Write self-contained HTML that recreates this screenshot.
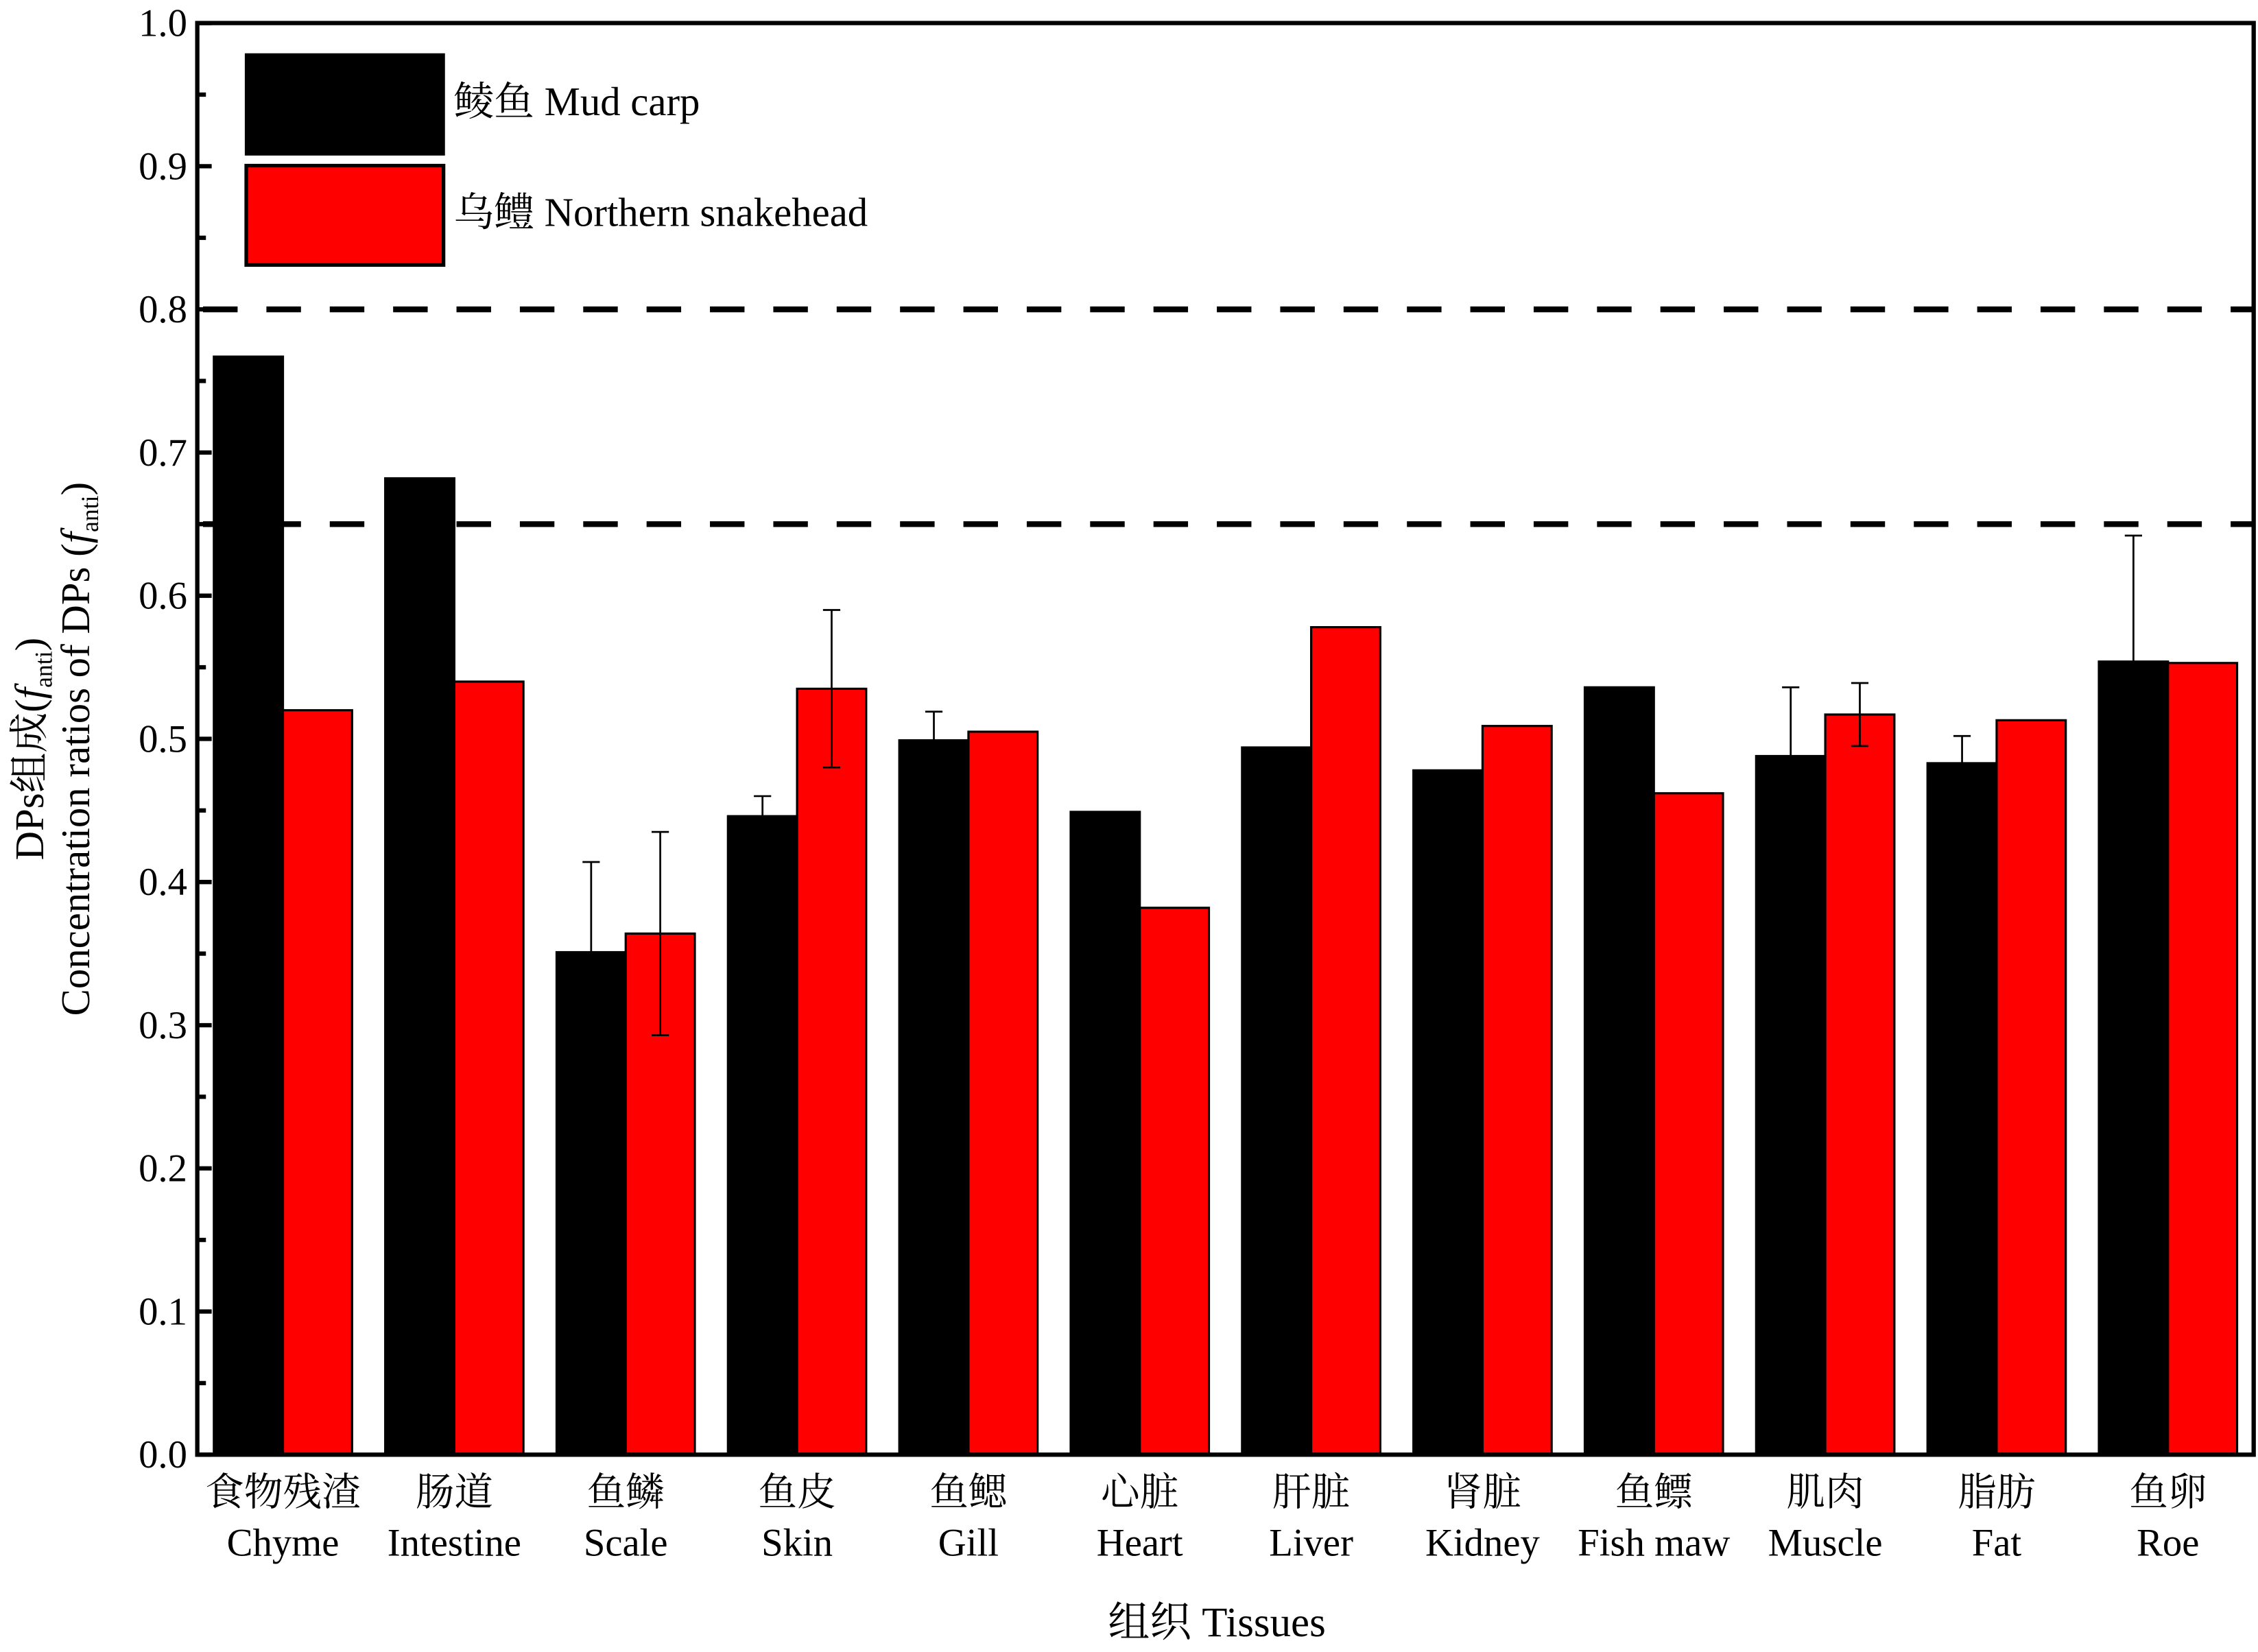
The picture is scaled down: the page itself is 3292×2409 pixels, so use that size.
<!DOCTYPE html>
<html><head><meta charset="utf-8"><style>
html,body{margin:0;padding:0;background:#fff}
svg{display:block}
text{font-family:"Liberation Serif","Noto Serif CJK SC",serif;fill:#000}
</style></head><body>
<svg id="chart" width="3292" height="2409" viewBox="0 0 1568 1147" preserveAspectRatio="none" xmlns="http://www.w3.org/2000/svg">
<rect x="0" y="0" width="1568" height="1147" fill="#fff"/>
<g id="plot"></g>
<g>
<rect x="171" y="38" width="137" height="69" fill="#000" stroke="#000" stroke-width="2"/>
<text x="315" y="80" font-size="28">鲮鱼 Mud carp</text>
<rect x="171" y="115" width="137" height="69" fill="#ff0000" stroke="#000" stroke-width="2.5"/>
<text x="315" y="157" font-size="28">乌鳢 Northern snakehead</text>
</g>
<text x="845" y="1136" font-size="29" text-anchor="middle">组织 Tissues</text>
<g transform="translate(0,520) rotate(-90)">
<text x="0" y="30" font-size="28" text-anchor="middle">DPs组成(<tspan font-style="italic">f</tspan><tspan font-size="17" dy="6">anti</tspan><tspan dy="-6">)</tspan></text>
<text x="0" y="62" font-size="28" text-anchor="middle">Concentration ratios of DPs (<tspan font-style="italic">f</tspan><tspan font-size="17" dy="6">anti</tspan><tspan dy="-6">)</tspan></text>
</g>
</svg>
<script>
const categoriesCn = ["食物残渣","肠道","鱼鳞","鱼皮","鱼鳃","心脏","肝脏","肾脏","鱼鳔","肌肉","脂肪","鱼卵"];
const categoriesEn = ["Chyme","Intestine","Scale","Skin","Gill","Heart","Liver","Kidney","Fish maw","Muscle","Fat","Roe"];
const mudCarp = [0.767,0.682,0.351,0.446,0.499,0.449,0.494,0.478,0.536,0.488,0.483,0.554];
const mudCarpErr = [0,0,0.063,0.014,0.02,0,0,0,0,0.048,0.019,0.088];
const snakehead = [0.520,0.540,0.364,0.535,0.505,0.382,0.578,0.509,0.462,0.517,0.513,0.553];
const snakeheadErr = [0,0,0.071,0.055,0,0,0,0,0,0.022,0,0];
const yTicks = [0.0,0.1,0.2,0.3,0.4,0.5,0.6,0.7,0.8,0.9,1.0];
const refLines = [0.8,0.65];

const NS="http://www.w3.org/2000/svg";
const L=137,R=1565,T=16,B=1010;
const yS=v=>B-(v-0)/(1-0)*(B-T);
const band=(R-L)/categoriesEn.length;
const xS=i=>L+band*(i+0.5);
const bw=48;
const g=document.getElementById('plot');
function mk(tag,attrs){const e=document.createElementNS(NS,tag);for(const k in attrs)e.setAttribute(k,attrs[k]);g.appendChild(e);return e;}

function errBar(cx,v,e,name){
  if(!e)return;
  const l=mk('path',{d:`M${cx},${yS(v+e)}V${yS(v-e)}M${cx-6},${yS(v+e)}H${cx+6}M${cx-6},${yS(v-e)}H${cx+6}`,stroke:'#000','stroke-width':1.3,fill:'none'});
  
  
}
categoriesEn.forEach((c,i)=>{
  const cx=xS(i);
  const a=mk('rect',{x:cx-bw,y:yS(mudCarp[i]),width:bw,height:yS(0)-yS(mudCarp[i]),fill:'#000',stroke:'#000','stroke-width':1.5});
  
  
  const b=mk('rect',{x:cx,y:yS(snakehead[i]),width:bw,height:yS(0)-yS(snakehead[i]),fill:'#ff0000',stroke:'#000','stroke-width':1.5});
  
  
  errBar(cx-bw/2,mudCarp[i],mudCarpErr[i],'error-bar-mud-carp');
  errBar(cx+bw/2,snakehead[i],snakeheadErr[i],'error-bar-snakehead');
  const t1=mk('text',{x:cx,y:1045,'font-size':27,'text-anchor':'middle'});
  t1.textContent=categoriesCn[i];
  
  
  const t2=mk('text',{x:cx,y:1080,'font-size':27,'text-anchor':'middle'});
  t2.textContent=c;
  
  
});
refLines.forEach(v=>{
  const l=mk('line',{x1:L+4,x2:R,y1:yS(v),y2:yS(v),stroke:'#000','stroke-width':4,'stroke-dasharray':'24,20'});
  
  
});
yTicks.forEach((v,i)=>{
  const t=mk('line',{x1:L,x2:L+10,y1:yS(v),y2:yS(v),stroke:'#000','stroke-width':3});
  
  
  if(i<yTicks.length-1){
    const m=mk('line',{x1:L,x2:L+6,y1:yS(v+0.05),y2:yS(v+0.05),stroke:'#000','stroke-width':3});
    
    
  }
  const lb=mk('text',{x:130,y:yS(v)+9,'font-size':27,'text-anchor':'end'});
  lb.textContent=v.toFixed(1);
  
  
});
const fr=mk('rect',{x:L,y:T,width:R-L,height:B-T,fill:'none',stroke:'#000','stroke-width':3});


</script>
</body></html>
